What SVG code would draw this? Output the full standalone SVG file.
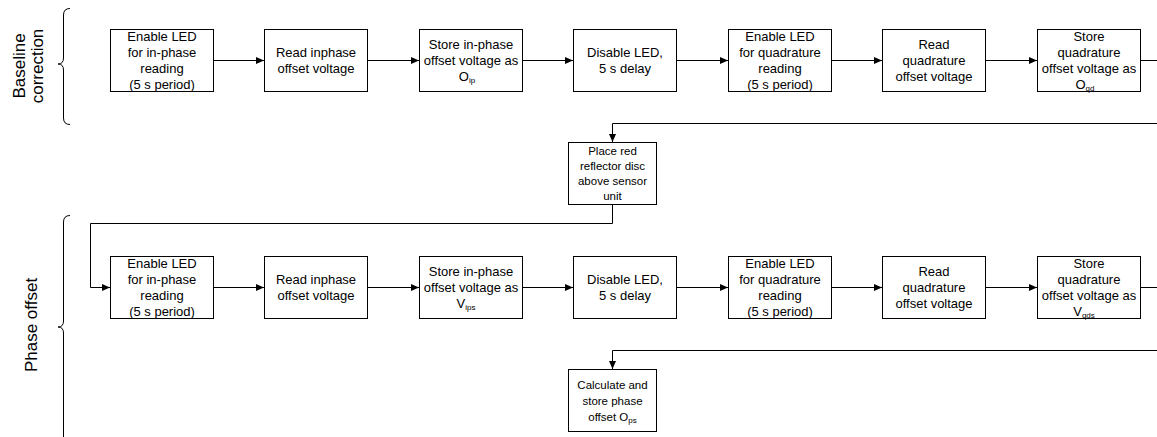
<svg xmlns="http://www.w3.org/2000/svg" width="1157" height="437" viewBox="0 0 1157 437">
<style>
.box{fill:#fff;stroke:#000;stroke-width:1}
.t{font-family:"Liberation Sans",Arial,sans-serif;font-size:13px;fill:#000;text-anchor:middle}
.ts{font-family:"Liberation Sans",Arial,sans-serif;font-size:11.5px;fill:#000;text-anchor:middle}
.sub{font-size:8px}
.lbl{font-family:"Liberation Sans",Arial,sans-serif;font-size:17px;fill:#000;text-anchor:middle}
.c{fill:none;stroke:#000;stroke-width:1}
.br{fill:none;stroke:#000;stroke-width:1}
</style>
<defs>
<marker id="ah" markerWidth="8" markerHeight="7" refX="8" refY="3.5" orient="auto" markerUnits="userSpaceOnUse">
<path d="M0,0 L8,3.5 L0,7 z" fill="#000"/>
</marker>
</defs>

<g id="labels">
<path class="br" d="M70,8.5 Q63.5,8.5 63.5,15 V58 Q63.5,64 58,64 Q63.5,64 63.5,70 V118 Q63.5,124.5 70,124.5"/>
<path class="br" d="M70,215.5 Q63.5,215.5 63.5,222 V321 Q63.5,327 58,327 Q63.5,327 63.5,333 V440"/>
<text class="lbl" transform="translate(25,66) rotate(-90)">Baseline</text>
<text class="lbl" transform="translate(43,66) rotate(-90)">correction</text>
<text class="lbl" transform="translate(37,325) rotate(-90)">Phase offset</text>
</g>

<g id="connectors">
<path class="c" d="M213,60.5 H264" marker-end="url(#ah)"/>
<path class="c" d="M367,60.5 H419" marker-end="url(#ah)"/>
<path class="c" d="M522,60.5 H573" marker-end="url(#ah)"/>
<path class="c" d="M676,60.5 H728" marker-end="url(#ah)"/>
<path class="c" d="M831,60.5 H882" marker-end="url(#ah)"/>
<path class="c" d="M985,60.5 H1037" marker-end="url(#ah)"/>
<path class="c" d="M1140,60.5 H1160 V123.5 H612.5 V142" marker-end="url(#ah)"/>
<path class="c" d="M612.5,204 V223.5 H90.5 V287.5 H110" marker-end="url(#ah)"/>
<path class="c" d="M213,287.5 H264" marker-end="url(#ah)"/>
<path class="c" d="M367,287.5 H419" marker-end="url(#ah)"/>
<path class="c" d="M522,287.5 H573" marker-end="url(#ah)"/>
<path class="c" d="M676,287.5 H728" marker-end="url(#ah)"/>
<path class="c" d="M831,287.5 H882" marker-end="url(#ah)"/>
<path class="c" d="M985,287.5 H1037" marker-end="url(#ah)"/>
<path class="c" d="M1140,287.5 H1160 V350.5 H612.5 V369" marker-end="url(#ah)"/>
</g>

<g id="b1">
<rect class="box" x="110.5" y="29.5" width="103" height="62"/>
<text class="t"><tspan x="162" y="40.5">Enable LED</tspan><tspan x="162" y="56.5">for in-phase</tspan><tspan x="162" y="72.5">reading</tspan><tspan x="162" y="88.5">(5 s period)</tspan></text>
</g>
<g id="b2">
<rect class="box" x="264.5" y="29.5" width="103" height="62"/>
<text class="t"><tspan x="316" y="56.5">Read inphase</tspan><tspan x="316" y="72.5">offset voltage</tspan></text>
</g>
<g id="b3">
<rect class="box" x="419.5" y="29.5" width="103" height="62"/>
<text class="t"><tspan x="471" y="48.5">Store in-phase</tspan><tspan x="471" y="64.5">offset voltage as</tspan><tspan x="467" y="80.5">O<tspan class="sub" dy="2">ip</tspan></tspan></text>
</g>
<g id="b4">
<rect class="box" x="573.5" y="29.5" width="103" height="62"/>
<text class="t"><tspan x="625" y="56.5">Disable LED,</tspan><tspan x="625" y="72.5">5 s delay</tspan></text>
</g>
<g id="b5">
<rect class="box" x="728.5" y="29.5" width="103" height="62"/>
<text class="t"><tspan x="780" y="40.5">Enable LED</tspan><tspan x="780" y="56.5">for quadrature</tspan><tspan x="780" y="72.5">reading</tspan><tspan x="780" y="88.5">(5 s period)</tspan></text>
</g>
<g id="b6">
<rect class="box" x="882.5" y="29.5" width="103" height="62"/>
<text class="t"><tspan x="934" y="48.5">Read</tspan><tspan x="934" y="64.5">quadrature</tspan><tspan x="934" y="80.5">offset voltage</tspan></text>
</g>
<g id="b7">
<rect class="box" x="1037.5" y="29.5" width="103" height="62"/>
<text class="t"><tspan x="1089" y="40.5">Store</tspan><tspan x="1089" y="56.5">quadrature</tspan><tspan x="1089" y="72.5">offset voltage as</tspan><tspan x="1085" y="88.5">O<tspan class="sub" dy="2">qd</tspan></tspan></text>
</g>

<g id="place">
<rect class="box" x="568.5" y="142.5" width="88" height="62"/>
<text class="ts"><tspan x="612.5" y="154.5">Place red</tspan><tspan x="612.5" y="169.5">reflector disc</tspan><tspan x="612.5" y="184.5">above sensor</tspan><tspan x="612.5" y="199.5">unit</tspan></text>
</g>

<g id="p1">
<rect class="box" x="110.5" y="256.5" width="103" height="62"/>
<text class="t"><tspan x="162" y="267.5">Enable LED</tspan><tspan x="162" y="283.5">for in-phase</tspan><tspan x="162" y="299.5">reading</tspan><tspan x="162" y="315.5">(5 s period)</tspan></text>
</g>
<g id="p2">
<rect class="box" x="264.5" y="256.5" width="103" height="62"/>
<text class="t"><tspan x="316" y="283.5">Read inphase</tspan><tspan x="316" y="299.5">offset voltage</tspan></text>
</g>
<g id="p3">
<rect class="box" x="419.5" y="256.5" width="103" height="62"/>
<text class="t"><tspan x="471" y="275.5">Store in-phase</tspan><tspan x="471" y="291.5">offset voltage as</tspan><tspan x="466" y="307.5">V<tspan class="sub" dy="2">ips</tspan></tspan></text>
</g>
<g id="p4">
<rect class="box" x="573.5" y="256.5" width="103" height="62"/>
<text class="t"><tspan x="625" y="283.5">Disable LED,</tspan><tspan x="625" y="299.5">5 s delay</tspan></text>
</g>
<g id="p5">
<rect class="box" x="728.5" y="256.5" width="103" height="62"/>
<text class="t"><tspan x="780" y="267.5">Enable LED</tspan><tspan x="780" y="283.5">for quadrature</tspan><tspan x="780" y="299.5">reading</tspan><tspan x="780" y="315.5">(5 s period)</tspan></text>
</g>
<g id="p6">
<rect class="box" x="882.5" y="256.5" width="103" height="62"/>
<text class="t"><tspan x="934" y="275.5">Read</tspan><tspan x="934" y="291.5">quadrature</tspan><tspan x="934" y="307.5">offset voltage</tspan></text>
</g>
<g id="p7">
<rect class="box" x="1037.5" y="256.5" width="103" height="62"/>
<text class="t"><tspan x="1089" y="267.5">Store</tspan><tspan x="1089" y="283.5">quadrature</tspan><tspan x="1089" y="299.5">offset voltage as</tspan><tspan x="1084" y="315.5">V<tspan class="sub" dy="2">qds</tspan></tspan></text>
</g>

<g id="calc">
<rect class="box" x="568.5" y="369.5" width="88" height="62"/>
<text class="ts"><tspan x="612.5" y="389">Calculate and</tspan><tspan x="612.5" y="405">store phase</tspan><tspan x="612.5" y="421">offset O<tspan class="sub" dy="2">ps</tspan></tspan></text>
</g>
</svg>
